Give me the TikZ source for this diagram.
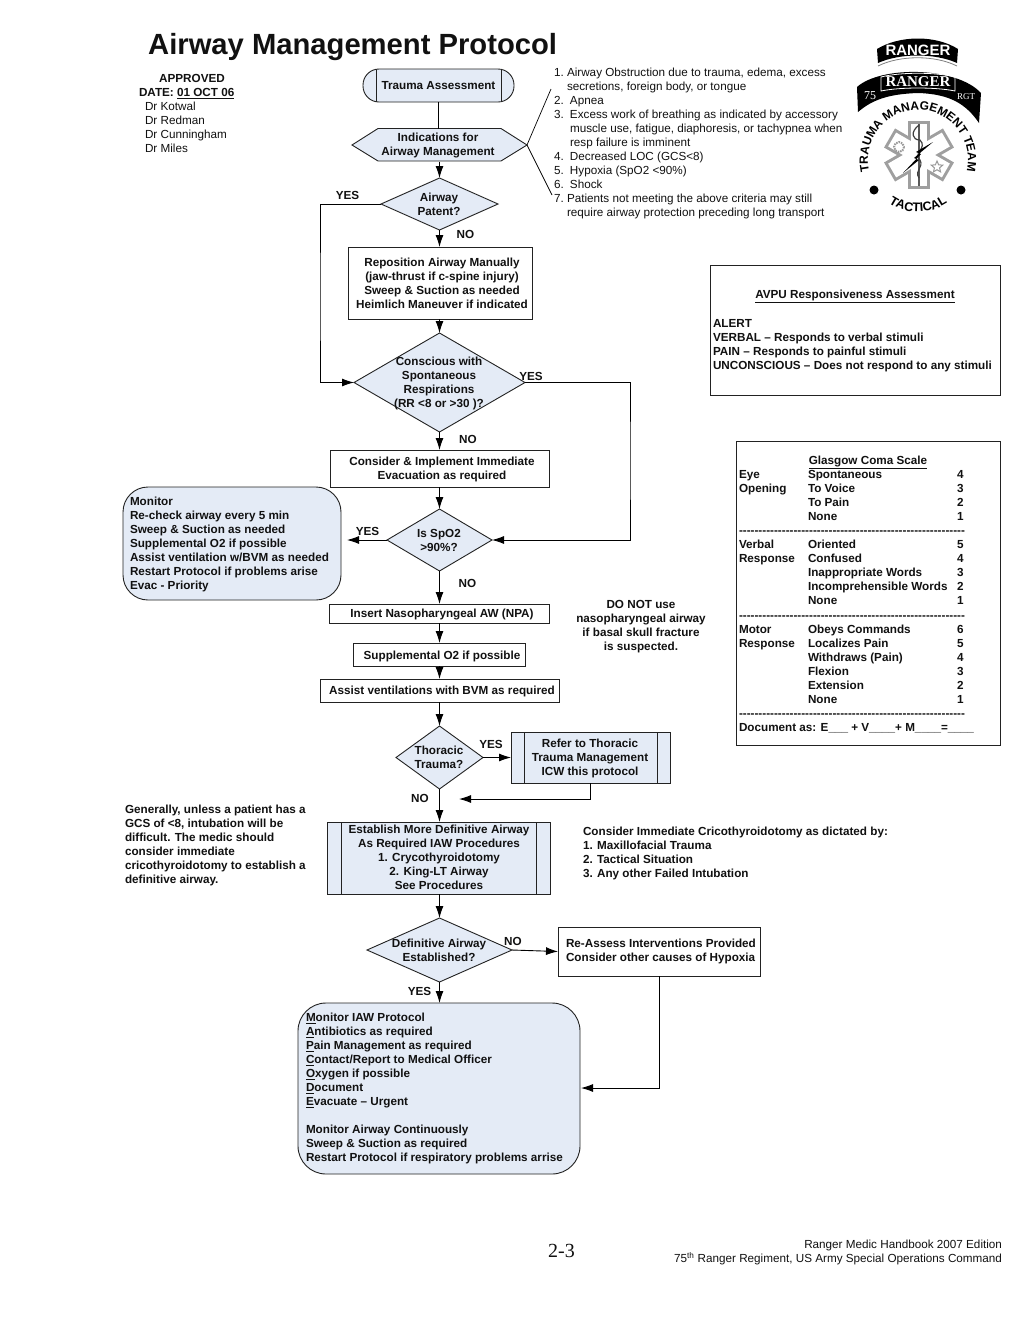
\documentclass[tikz,border=0pt]{standalone}
\usepackage{fontspec}
\setmainfont{Liberation Sans}
\newfontfamily\serifA{Liberation Serif}
\usetikzlibrary{arrows.meta,shapes.geometric,calc,decorations.text}
\definecolor{fillb}{HTML}{E4EBF6}
\definecolor{ink}{HTML}{111111}
\definecolor{edge}{HTML}{222222}
\newcommand\hh{-{}-{}-{}-{}-{}-{}-{}-{}-{}-{}}
\newcommand\dashrow{\hh\hh\hh\hh\hh-{}-{}-{}-{}-{}-{}-{}-{}}
\tikzset{
  fb/.style={font=\fontsize{11.7}{14}\selectfont\bfseries,text=ink,inner sep=0pt,outer sep=0pt,yshift=-2.5pt,execute at begin node=\strut,execute at end node=\strut},
  fr/.style={font=\fontsize{11.7}{14}\selectfont,text=ink,inner sep=0pt,outer sep=0pt,yshift=-2.5pt,execute at begin node=\strut,execute at end node=\strut},
  lft/.style={align=left,anchor=north west},
  ctr/.style={align=center},
  lab/.style={fb},
  shapebox/.style={draw=edge,line width=0.9pt,inner sep=0pt,outer sep=0pt},
  tint/.style={shapebox,fill=fillb},
  plainbox/.style={shapebox,fill=white},
  dia/.style={tint,diamond,aspect=#1},
  pred/.style={path picture={
     \draw[edge,line width=0.9pt] ([xshift=#1]path picture bounding box.north west) -- ([xshift=#1]path picture bounding box.south west);
     \draw[edge,line width=0.9pt] ([xshift=-#1]path picture bounding box.north east) -- ([xshift=-#1]path picture bounding box.south east);}},
  conn/.style={draw=black,line width=0.9pt},
  arr/.style={conn,-{Latex[length=12pt,width=8pt]}}
}
\begin{document}
\begin{tikzpicture}[x=1pt,y=-1pt]
\useasboundingbox (0,0) rectangle (1024,1326);
\fill[white] (0,0) rectangle (1024,1326);

% title and header
\node[font=\fontsize{29.2}{34}\selectfont\bfseries,text=ink,anchor=west,inner sep=0pt] (title) at (148,47) {Airway Management Protocol};
\node[fb,ctr] (appr) at (192,77) {APPROVED};
\node[fb,anchor=west] (date) at (139,91) {DATE: \underline{01 OCT 06}};
\node[fr,lft] (drs) at (145,100) {Dr Kotwal\\Dr Redman\\Dr Cunningham\\Dr Miles};

% flow nodes
\node[tint,minimum width=151pt,minimum height=33pt,rounded corners=16pt,pred=13pt] (trauma) at (438.5,85.5) {};
\node[fb,ctr] (traumat) at (438.5,84.5) {Trauma Assessment};

\draw[tint] (352,145) -- (378,128.5) -- (501,128.5) -- (527,145) -- (501,161) -- (378,161) -- cycle;
\node[minimum width=175pt,minimum height=33pt,inner sep=0pt,outer sep=0pt] (hex) at (439.5,145) {};
\node[fb,ctr] (hext) at (438,144) {Indications for\\Airway Management};

\node[dia=2.25,minimum width=117pt,minimum height=52pt] (patent) at (439.5,204) {};
\node[fb,ctr] (patentt) at (439,204) {Airway\\Patent?};

\node[plainbox,minimum width=184pt,minimum height=72pt] (repo) at (440,283) {};
\node[fb,ctr] (repot) at (442,283) {Reposition Airway Manually\\(jaw-thrust if c-spine injury)\\Sweep \& Suction as needed\\Heimlich Maneuver if indicated};

\node[dia=1.73,minimum width=171pt,minimum height=99pt] (cons) at (439.5,382.5) {};
\node[fb,ctr] (const) at (439,382) {Conscious with\\Spontaneous\\Respirations\\(RR <8 or >30 )?};

\node[plainbox,minimum width=219pt,minimum height=37pt] (evac) at (439.5,468.5) {};
\node[fb,ctr] (evact) at (442,468) {Consider \& Implement Immediate\\Evacuation as required};

\node[dia=1.7,minimum width=105pt,minimum height=62pt] (spo) at (439.5,540) {};
\node[fb,ctr] (spot) at (439,540) {Is SpO2\\>90\%?};

\node[tint,minimum width=218pt,minimum height=113pt,rounded corners=25pt] (mon) at (232,543.5) {};
\node[fb,lft] (mont) at (130,495) {Monitor\\Re-check airway every 5 min\\Sweep \& Suction as needed\\Supplemental O2 if possible\\Assist ventilation w/BVM as needed\\Restart Protocol if problems arise\\Evac - Priority};

\node[plainbox,minimum width=220pt,minimum height=19pt] (npa) at (439,613.5) {};
\node[fb] (npat) at (442,612) {Insert Nasopharyngeal AW (NPA)};
\node[plainbox,minimum width=172pt,minimum height=23pt] (sup) at (439,654.5) {};
\node[fb] (supt) at (442,654) {Supplemental O2 if possible};
\node[plainbox,minimum width=239pt,minimum height=23pt] (bvm) at (439.5,690.5) {};
\node[fb] (bvmt) at (442,689) {Assist ventilations with BVM as required};

\node[dia=1.38,minimum width=87pt,minimum height=63pt] (thor) at (439.5,757.5) {};
\node[fb,ctr] (thort) at (439,757) {Thoracic\\Trauma?};

\node[tint,minimum width=159pt,minimum height=51pt,pred=13pt] (refer) at (590.5,757.5) {};
\node[fb,ctr] (refert) at (590,757) {Refer to Thoracic\\Trauma Management\\ICW this protocol};

\node[tint,minimum width=223pt,minimum height=72pt,pred=14pt] (estab) at (438.5,858) {};
\node[fb,ctr] (estabt) at (439,856.5) {Establish More Definitive Airway\\As Required IAW Procedures\\1. Crycothyroidotomy\\2. King-LT Airway\\See Procedures};

\node[dia=2.27,minimum width=145pt,minimum height=64pt] (defi) at (439.5,950) {};
\node[fb,ctr] (defit) at (439,950) {Definitive Airway\\Established?};

\node[plainbox,minimum width=202pt,minimum height=49pt] (reas) at (659,951.5) {};
\node[fb,lft] (reast) at (566,937) {Re-Assess Interventions Provided\\Consider other causes of Hypoxia};

\node[tint,minimum width=282pt,minimum height=171pt,rounded corners=28pt] (iaw) at (439,1088.5) {};
\node[fb,lft] (iawt) at (306,1011) {\underline{M}onitor IAW Protocol\\\underline{A}ntibiotics as required\\\underline{P}ain Management as required\\\underline{C}ontact/Report to Medical Officer\\\underline{O}xygen if possible\\\underline{D}ocument\\\underline{E}vacuate -- Urgent\\\mbox{}\\Monitor Airway Continuously\\Sweep \& Suction as required\\Restart Protocol if respiratory problems arrise};

% connector labels
\node[lab] (l1) at (347.5,194) {YES};
\node[lab] (l2) at (465.5,233) {NO};
\node[lab] (l3) at (531,375) {YES};
\node[lab] (l4) at (468,438) {NO};
\node[lab] (l5) at (367.5,530) {YES};
\node[lab] (l6) at (467.5,582) {NO};
\node[lab] (l7) at (491,743) {YES};
\node[lab] (l8) at (420,797) {NO};
\node[lab] (l9) at (513,940) {NO};
\node[lab] (l10) at (419.5,990) {YES};

% connectors
\draw[conn] (trauma.south) -- (trauma.south |- hex.north);
\draw[arr] (hex.south) -- (patent.north);
\draw[arr] (patent.south) -- (patent.south |- repo.north);
\draw[arr] (repo.south -| cons.north) -- (cons.north);
\draw[arr] (cons.south) -- (cons.south |- evac.north);
\draw[arr] (evac.south -| spo.north) -- (spo.north);
\draw[arr] (spo.south) -- (spo.south |- npa.north);
\draw[arr] (npa.south -| spo.north) -- (spo.north |- sup.north);
\draw[arr] (sup.south -| spo.north) -- (spo.north |- bvm.north);
\draw[arr] (bvm.south -| thor.north) -- (thor.north);
\draw[arr] (thor.south) -- (thor.south |- estab.north);
\draw[arr] (estab.south -| defi.north) -- (defi.north);
\draw[arr] (defi.south) -- (defi.south |- iaw.north);
\coordinate (py) at (320,300);
\draw[arr] (patent.west) -| (py) |- (cons.west);
\coordinate (cy) at (630,460);
\draw[arr] (cons.east) -| (cy) |- (spo.east);
\draw[arr] (spo.west) -- ([xshift=6pt]mon.east |- spo.west);
\draw[arr] (thor.east) -- (refer.west |- thor.east);
\coordinate (rtip) at (459,799);
\draw[arr] (refer.south) |- (rtip);
\draw[arr] (defi.east) -- (reas.west);
\coordinate (itip) at (581,1088);
\draw[arr] (reas.south) |- (itip);
\coordinate (h1) at (551,89);
\coordinate (h2) at (552,195);
\draw[conn,line width=0.7pt] (h1) -- (hex.east) -- (h2);

% indications list
\node[fr,lft] (ind) at (554,66) {\makebox[13pt][l]{1.}Airway Obstruction due to trauma, edema, excess\\\hspace*{13pt}secretions, foreign body, or tongue\\\makebox[16pt][l]{2.}Apnea\\\makebox[16pt][l]{3.}Excess work of breathing as indicated by accessory\\\hspace*{16pt}muscle use, fatigue, diaphoresis, or tachypnea when\\\hspace*{16pt}resp failure is imminent\\\makebox[16pt][l]{4.}Decreased LOC (GCS<8)\\\makebox[16pt][l]{5.}Hypoxia (SpO2 <90\%)\\\makebox[16pt][l]{6.}Shock\\\makebox[13pt][l]{7.}Patients not meeting the above criteria may still\\\hspace*{13pt}require airway protection preceding long transport};

% AVPU
\node[draw=edge,line width=1pt,minimum width=290pt,minimum height=130pt,inner sep=0pt,outer sep=0pt] (avpu) at (855,330) {};
\node[fb] (avput) at (855,293) {\underline{AVPU Responsiveness Assessment}};
\node[fb,lft] (avpul) at (713,317) {ALERT\\VERBAL -- Responds to verbal stimuli\\PAIN -- Responds to painful stimuli\\UNCONSCIOUS -- Does not respond to any stimuli};

% GCS
\node[draw=edge,line width=1pt,minimum width=264pt,minimum height=304pt,inner sep=0pt,outer sep=0pt] (gcs) at (868,593) {};
\node[fb] (gcst) at (868,459) {\underline{Glasgow Coma Scale}};
\node[fb,lft] (g1a) at (739,468) {Eye\\Opening};
\node[fb,lft] (g1b) at (808,468) {Spontaneous\\To Voice\\To Pain\\None};
\node[fb,lft] (g1c) at (957,468) {4\\3\\2\\1};
\node[fb,anchor=west] (gd1) at (739,529.5) {\dashrow};
\node[fb,lft] (g2a) at (739,538) {Verbal\\Response};
\node[fb,lft] (g2b) at (808,538) {Oriented\\Confused\\Inappropriate Words\\Incomprehensible Words\\None};
\node[fb,lft] (g2c) at (957,538) {5\\4\\3\\2\\1};
\node[fb,anchor=west] (gd2) at (739,614.5) {\dashrow};
\node[fb,lft] (g3a) at (739,623) {Motor\\Response};
\node[fb,lft] (g3b) at (808,623) {Obeys Commands\\Localizes Pain\\Withdraws (Pain)\\Flexion\\Extension\\None};
\node[fb,lft] (g3c) at (957,623) {6\\5\\4\\3\\2\\1};
\node[fb,anchor=west] (gd3) at (739,712.5) {\dashrow};
\node[fb,anchor=west] (gdoc) at (739,726) {Document as: E\_\_\_ + V\_\_\_\_+ M\_\_\_\_=\_\_\_\_};

% notes
\node[fb,ctr] (donot) at (641,625) {DO NOT use\\nasopharyngeal airway\\if basal skull fracture\\is suspected.};
\node[fb,lft] (gen) at (125,803) {Generally, unless a patient has a\\GCS of <8, intubation will be\\difficult.  The medic should\\consider immediate\\cricothyroidotomy to establish a\\definitive airway.};
\node[fb,lft] (cric) at (583,825) {Consider Immediate Cricothyroidotomy as dictated by:\\1.  Maxillofacial Trauma\\2. Tactical Situation\\3. Any other Failed Intubation};

% footer
\node[font=\fontsize{20}{22}\selectfont\serifA,text=ink,inner sep=0pt] (page) at (561.5,1251) {2-3};
\node[fr,align=right,anchor=east] (foot) at (1002,1251) {Ranger Medic Handbook 2007 Edition\\75\textsuperscript{th} Ranger Regiment, US Army Special Operations Command};

% emblem
\fill[black] (877,49) .. controls (900,35) and (936,35) .. (958,49) -- (957,63) .. controls (935,53) and (900,53) .. (878,63) -- cycle;
\draw[gray,line width=0.8pt] (878,66) .. controls (900,55) and (935,55) .. (957,66);
\node[font=\fontsize{15}{16}\selectfont\bfseries,text=white,inner sep=0pt] (tab1) at (918,50) {RANGER};
\fill[black] (857,87) .. controls (880,66) and (956,66) .. (981,93) -- (979,123) .. controls (966,104) and (950,94) .. (918,93) .. controls (888,94) and (872,100) .. (858,112) -- cycle;
\draw[white,line width=0.8pt] (881,77) .. controls (900,72) and (936,72) .. (955,77) -- (955,91) .. controls (936,87) and (900,87) .. (881,91) -- cycle;
\node[font=\fontsize{15}{16}\selectfont\serifA\bfseries,text=white,inner sep=0pt] (tab2) at (918,82) {RANGER};
\node[font=\fontsize{12}{13}\selectfont\serifA,text=white,inner sep=0pt] (tab3) at (870,96) {75};
\node[font=\fontsize{9}{10}\selectfont\serifA,text=white,inner sep=0pt] (tab4) at (966,97) {RGT};
\path[decorate,decoration={text along path,text align=center,text={|\fontsize{12}{13}\selectfont\bfseries|TRAUMA MANAGEMENT TEAM}}] (872.68,181.13) .. controls (862.89,160.13) and (868.82,135.15) .. (886.99,120.78) .. controls (905.16,106.41) and (930.84,106.41) .. (949.01,120.78) .. controls (967.18,135.15) and (973.11,160.13) .. (963.32,181.13);
\path[decorate,decoration={text along path,text align=center,text={|\fontsize{12.5}{13}\selectfont\bfseries|TACTICAL}}] (879.36,194.79) .. controls (900.02,217.73) and (935.98,217.73) .. (956.64,194.79);
\fill[black] (874,190) circle (4.5);
\fill[black] (961,190) circle (4.5);
\foreach \a in {0,60,120} \fill[gray!75,rotate around={\a:(919,155)}] (908,121) rectangle (930,189);
\foreach \a in {0,60,120} \fill[white,rotate around={\a:(919,155)}] (911,124) rectangle (927,186);
\draw[gray!70!black,line width=1.5pt] (919,124) -- (919,186);
\draw[black!75,line width=1.2pt] (919,125) .. controls (910,132) and (912,140) .. (920,140) .. controls (928,148) and (912,154) .. (920,160) .. controls (924,168) and (914,170) .. (919,178);
\fill[black] (933,142) -- (916,152) -- (921,154) -- (903,173) -- (919,160) -- (914,158) -- cycle;
\draw[gray!80,line width=2pt,dash pattern=on 1.5pt off 1pt] (899,147) circle (5);
\node[star,star points=5,star point ratio=2.2,draw=gray!80,line width=1pt,minimum size=12pt,inner sep=0pt] (emstar) at (937,167) {};
\end{tikzpicture}
\end{document}
